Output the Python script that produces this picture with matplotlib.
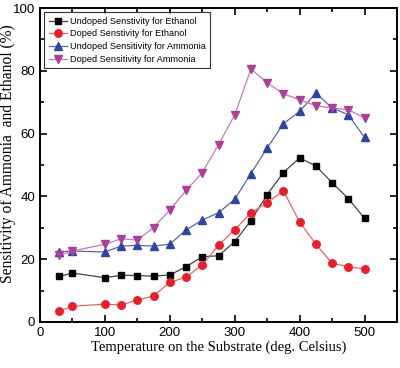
import matplotlib
matplotlib.use("Agg")
import matplotlib.pyplot as plt
from matplotlib.ticker import MultipleLocator

# values
temp = [30, 50, 100, 125, 150, 175, 200, 225, 250, 275, 300, 325, 350, 375, 400, 425, 450, 475, 500]
undoped_ethanol = [14.5, 15.6, 14.1, 14.9, 14.8, 14.6, 15.0, 17.6, 20.8, 21.1, 25.6, 32.3, 40.6,
                   47.6, 52.3, 49.7, 44.4, 39.3, 33.0]
doped_ethanol = [3.5, 5.0, 5.7, 5.4, 7.0, 8.3, 12.6, 14.3, 18.2, 24.4, 29.4, 34.8, 38.0,
                 41.8, 31.8, 24.8, 18.7, 17.6, 16.9]
undoped_ammonia = [22.4, 22.6, 22.3, 24.2, 24.4, 24.2, 24.8, 29.3, 32.5, 34.8, 39.1, 47.3, 55.4,
                   63.2, 67.1, 72.9, 68.2, 66.0, 58.8]
doped_ammonia = [21.3, 22.6, 24.8, 26.5, 26.1, 30.1, 35.7, 41.9, 47.6, 56.5, 66.0, 80.6, 76.2,
                 72.7, 70.8, 68.9, 68.2, 67.6, 65.0]

series = [
    ("Undoped Senstivity for Ethanol", undoped_ethanol, "s", "black", "#444444", 4.6),
    ("Doped Senstivity for Ethanol", doped_ethanol, "o", "#ee1c25", "#f06060", 5.4),
    ("Undoped Sensitivity for Ammonia", undoped_ammonia, "^", "#2b44a6", "#5566b8", 5.8),
    ("Doped Sensitivity for Ammonia", doped_ammonia, "v", "#b03c9c", "#c878b8", 5.8),
]

plt.rcParams["font.family"] = "Liberation Sans"

fig = plt.figure(figsize=(4.0, 3.68), dpi=100)
ax = fig.add_axes([0.1, 0.125, 0.8925, 0.853])

for label, vals, mk, mc, lc, ms in series:
    ax.plot(temp, vals, color=lc, linewidth=0.9, marker=mk, markersize=ms,
            markerfacecolor=mc, markeredgecolor=mc, label=label)

ax.set_xlim(0, 550)
ax.set_ylim(0, 100)
ax.xaxis.set_major_locator(MultipleLocator(100))
ax.xaxis.set_minor_locator(MultipleLocator(50))
ax.yaxis.set_major_locator(MultipleLocator(20))
ax.yaxis.set_minor_locator(MultipleLocator(10))
ax.tick_params(which="both", direction="in", top=True, right=True, width=1.2, labelsize=9.5)
ax.tick_params(which="major", length=5)
ax.tick_params(which="minor", length=3)
for s in ax.spines.values():
    s.set_linewidth(1.4)

ax.set_xlabel("Temperature on the Substrate (deg. Celsius)", family="Liberation Serif",
              fontsize=10.5, labelpad=1)
ax.set_ylabel("Sensitivity of Ammonia  and Ethanol (%)", family="Liberation Serif",
              fontsize=11.2)
ax.yaxis.set_label_coords(-0.066, 0.535)

leg = ax.legend(loc="upper left", fontsize=6.6, frameon=True, fancybox=False,
                edgecolor="black", borderpad=0.5, labelspacing=0.4, handlelength=2.0,
                handletextpad=0.3, borderaxespad=0.45)
leg.get_frame().set_linewidth(0.8)

fig.savefig("out.png", dpi=100)
